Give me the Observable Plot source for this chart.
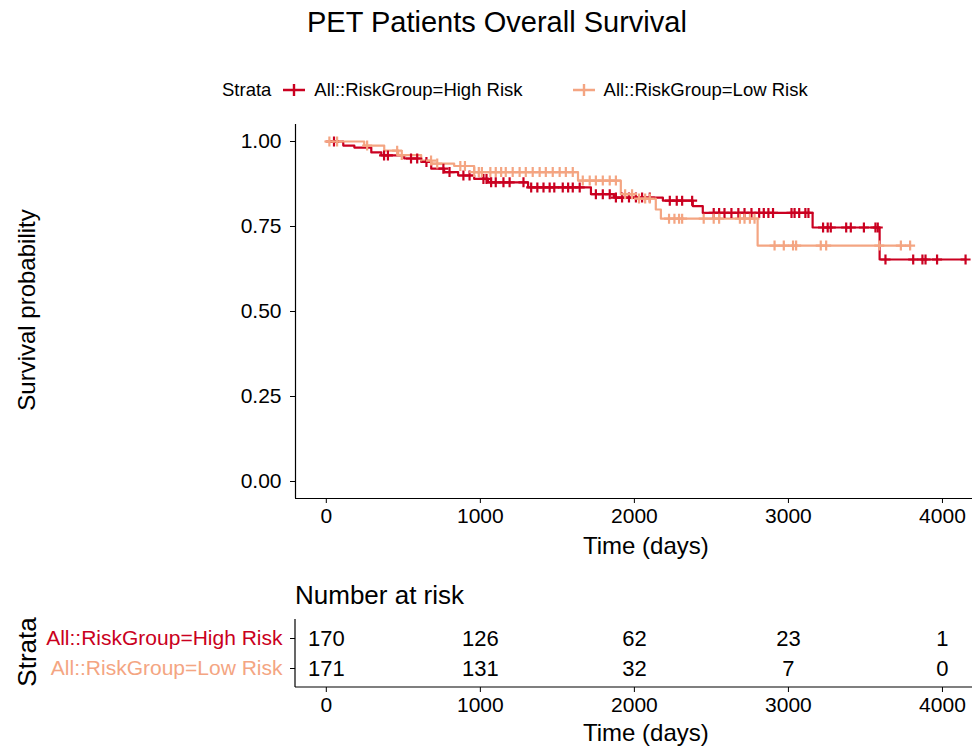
<!DOCTYPE html>
<html>
<head>
<meta charset="utf-8">
<script src="https://cdn.jsdelivr.net/npm/d3@7"></script>
<script src="https://cdn.jsdelivr.net/npm/@observablehq/plot@0.6"></script>
<style>
  html, body { margin: 0; padding: 0; background: #fff; }
  body { width: 977px; height: 753px; position: relative; overflow: hidden;
         font-family: "Liberation Sans", Arial, sans-serif; color: #000; }
  .abs { position: absolute; white-space: nowrap; }
  svg text { font-family: "Liberation Sans", Arial, sans-serif; }
</style>
</head>
<body>
<script>
// ---------------- data ----------------
const strata = ["All::RiskGroup=High Risk", "All::RiskGroup=Low Risk"];
const strataColors = ["#CA0020", "#F4A582"];

// Kaplan-Meier steps (time in days, survival probability after step)
const highTimes = [0, 110, 182, 292, 357, 506, 616, 681, 765, 856, 960, 1050, 1310, 1718, 1867, 2185, 2379, 2444, 3157, 3592];
const highSurv  = [1.0, 0.988, 0.982, 0.968, 0.959, 0.95, 0.94, 0.92, 0.91, 0.90, 0.89, 0.88, 0.865, 0.845, 0.835, 0.826, 0.81, 0.79, 0.747, 0.653];
const highEnd = 4150;
const highCensor = [50, 375, 400, 550, 590, 650, 760, 800, 890, 930, 1020, 1040,
  1070, 1100, 1150, 1190, 1280, 1330, 1370, 1410, 1450, 1480, 1535, 1570, 1600, 1645, 1750, 1795, 1840, 1880, 1920, 1965, 2010,
  2050, 2100, 2230, 2275, 2310, 2375,
  2515, 2550, 2585, 2630, 2675, 2715, 2760, 2810, 2840, 2870, 2900, 3020, 3040, 3070, 3110, 3130,
  3225, 3255, 3275, 3375, 3405, 3490, 3565, 3580,
  3630, 3810, 3870, 3890, 3965, 4150];

const lowTimes = [0, 246, 376, 467, 616, 681, 830, 960, 1634, 1912, 2010, 2139, 2172, 2800];
const lowSurv  = [1.0, 0.988, 0.973, 0.96, 0.944, 0.935, 0.928, 0.91, 0.885, 0.845, 0.832, 0.80, 0.773, 0.694];
const lowEnd = 3790;
const lowCensor = [20, 70, 265, 460, 490, 680, 720, 870, 900, 960, 990, 1010,
  1065, 1100, 1135, 1165, 1210, 1255, 1295, 1340, 1385, 1425, 1470, 1515, 1555, 1600, 1665, 1710, 1750, 1795, 1840, 1880, 1940, 1985, 2030, 2070, 2100,
  2225, 2260, 2290, 2310, 2450, 2515, 2550, 2685, 2715, 2750, 2780,
  2910, 2970, 3030, 3050, 3210, 3245, 3590, 3730, 3790];

// Number at risk table
const riskTimes = [0, 1000, 2000, 3000, 4000];
const riskHigh = [170, 126, 62, 23, 1];
const riskLow  = [171, 131, 32, 7, 0];

const xTicks = [0, 1000, 2000, 3000, 4000];
const yTicks = [0, 0.25, 0.5, 0.75, 1];
const xDomain = [-200, 4195];
const yDomain = [-0.05, 1.05];

// ---------------- build tables ----------------
function curve(times, surv, end, name) {
  const pts = times.map((t, i) => ({time: t, surv: surv[i], strata: name}));
  pts.push({time: end, surv: surv[surv.length - 1], strata: name});
  return pts;
}
function survAt(times, surv, t) {
  let s = surv[0];
  for (let i = 0; i < times.length; i++) if (times[i] <= t) s = surv[i];
  return s;
}
const lines = [
  ...curve(highTimes, highSurv, highEnd, strata[0]),
  ...curve(lowTimes, lowSurv, lowEnd, strata[1])
];
const censors = [
  ...highCensor.map(t => ({time: t, surv: survAt(highTimes, highSurv, t), strata: strata[0]})),
  ...lowCensor.map(t => ({time: t, surv: survAt(lowTimes, lowSurv, t), strata: strata[1]}))
];
const riskRows = [
  ...riskTimes.map((t, i) => ({time: t, n: riskHigh[i], strata: strata[0]})),
  ...riskTimes.map((t, i) => ({time: t, n: riskLow[i], strata: strata[1]}))
];

// stroked "+" symbol
const plusSymbol = {
  draw(context, size) {
    const r = Math.sqrt(size / Math.PI);
    context.moveTo(-r, 0); context.lineTo(r, 0);
    context.moveTo(0, -r); context.lineTo(0, r);
  }
};

const colorScale = {domain: strata, range: strataColors};

// ---------------- title & legend ----------------
const title = document.createElement("div");
title.className = "abs";
title.style.cssText = "left:307px; top:6px; font-size:29px; line-height:32px;";
title.textContent = "PET Patients Overall Survival";
document.body.appendChild(title);

const legend = document.createElement("div");
legend.className = "abs";
legend.style.cssText = "left:222px; top:78px; font-size:18.5px; line-height:24px; display:flex; align-items:center;";
function legendKey(color) {
  const ns = "http://www.w3.org/2000/svg";
  const s = document.createElementNS(ns, "svg");
  s.setAttribute("width", "26"); s.setAttribute("height", "20");
  s.style.margin = "0 7px 0 10px";
  s.innerHTML = `<path d="M2,10H24M13,4V16" stroke="${color}" stroke-width="2.4" fill="none"/>`;
  return s;
}
const lgTitle = document.createElement("span"); lgTitle.textContent = "Strata";
legend.appendChild(lgTitle);
strata.forEach((s, i) => {
  legend.appendChild(legendKey(strataColors[i]));
  const sp = document.createElement("span");
  sp.textContent = s;
  if (i === 0) sp.style.marginRight = "38px";
  legend.appendChild(sp);
});
document.body.appendChild(legend);

// ---------------- main survival plot ----------------
const main = Plot.plot({
  width: 977, height: 420,
  marginLeft: 295, marginRight: 5, marginTop: 14, marginBottom: 32,
  style: {fontSize: "21px", fontFamily: "Liberation Sans, Arial, sans-serif", color: "#000", background: "transparent"},
  x: {domain: xDomain, ticks: xTicks, tickFormat: d => String(d), label: null, tickSize: 5, tickPadding: 5},
  y: {domain: yDomain, ticks: yTicks, tickFormat: d3.format(".2f"), label: null, tickSize: 5, tickPadding: 9},
  color: colorScale,
  marks: [
    Plot.ruleY([yDomain[0]], {stroke: "#000", strokeWidth: 1.2}),
    Plot.ruleX([xDomain[0]], {stroke: "#000", strokeWidth: 1.2}),
    Plot.line(lines, {x: "time", y: "surv", z: "strata", stroke: "strata", curve: "step-after", strokeWidth: 2.2}),
    Plot.dot(censors, {x: "time", y: "surv", stroke: "strata", symbol: plusSymbol, r: 5, strokeWidth: 2.2, fill: "none"})
  ]
});
main.style.position = "absolute";
main.style.left = "0px";
main.style.top = "110px";
document.body.appendChild(main);

// axis titles
const xTitle = document.createElement("div");
xTitle.className = "abs";
xTitle.style.cssText = "left:583px; top:532px; font-size:24px; line-height:28px;";
xTitle.textContent = "Time (days)";
document.body.appendChild(xTitle);

const yTitle = document.createElement("div");
yTitle.className = "abs";
yTitle.style.cssText = "left:27px; top:310px; font-size:24px; line-height:28px; transform: translate(-50%,-50%) rotate(-90deg);";
yTitle.textContent = "Survival probability";
document.body.appendChild(yTitle);

// ---------------- risk table ----------------
const tableTitle = document.createElement("div");
tableTitle.className = "abs";
tableTitle.style.cssText = "left:295px; top:580px; font-size:26px; line-height:30px;";
tableTitle.textContent = "Number at risk";
document.body.appendChild(tableTitle);

const table = Plot.plot({
  width: 977, height: 116,
  marginLeft: 295, marginRight: 5, marginTop: 9, marginBottom: 39,
  style: {fontSize: "21px", fontFamily: "Liberation Sans, Arial, sans-serif", color: "#000", background: "transparent"},
  x: {domain: xDomain, ticks: xTicks, tickFormat: d => String(d), label: null, tickSize: 5, tickPadding: 5},
  y: {domain: strata, type: "point", padding: 0.6, label: null, tickSize: 5, tickPadding: 8},
  marks: [
    Plot.text(riskRows, {x: "time", y: "strata", text: "n", fontSize: 22, fill: "#000"})
  ]
});
table.style.position = "absolute";
table.style.left = "0px";
table.style.top = "610px";
document.body.appendChild(table);

// axis lines for the table panel & colored y labels
(function decorateTable() {
  const ns = "http://www.w3.org/2000/svg";
  const g = document.createElementNS(ns, "g");
  const x0 = 295, x1 = 972, y0 = 9, y1 = 116 - 39;
  g.innerHTML = `<line x1="${x0}" x2="${x1}" y1="${y1}" y2="${y1}" stroke="#000" stroke-width="1.2"/>` +
                `<line x1="${x0}" x2="${x0}" y1="${y0}" y2="${y1}" stroke="#000" stroke-width="1.2"/>`;
  table.appendChild(g);
  const ylab = table.querySelectorAll('g[aria-label="y-axis tick label"] text');
  ylab.forEach((t, i) => { t.setAttribute("fill", strataColors[i % 2]); t.style.fill = strataColors[i % 2]; });
})();

const xTitle2 = document.createElement("div");
xTitle2.className = "abs";
xTitle2.style.cssText = "left:583px; top:719px; font-size:24px; line-height:28px;";
xTitle2.textContent = "Time (days)";
document.body.appendChild(xTitle2);

const sTitle = document.createElement("div");
sTitle.className = "abs";
sTitle.style.cssText = "left:27px; top:652px; font-size:26px; line-height:28px; transform: translate(-50%,-50%) rotate(-90deg);";
sTitle.textContent = "Strata";
document.body.appendChild(sTitle);
</script>
</body>
</html>
